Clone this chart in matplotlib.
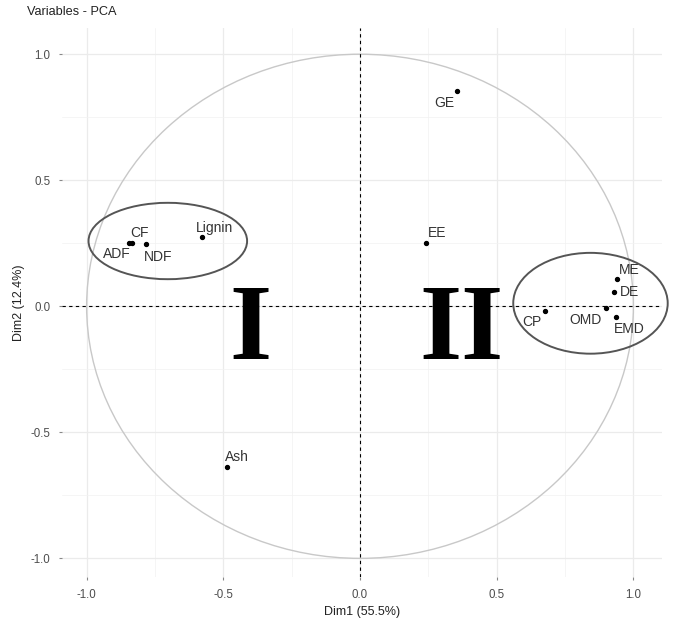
import numpy as np
import matplotlib
matplotlib.use("Agg")
import matplotlib.pyplot as plt
from matplotlib.patches import Ellipse, Circle

plt.rcParams['font.family'] = ['Liberation Sans', 'DejaVu Sans']

# ---- data ----
variables = ["GE", "EE", "Lignin", "CF", "ADF", "NDF", "Ash", "ME", "DE", "OMD", "EMD", "CP"]
dim1 = [0.356, 0.240, -0.578, -0.835, -0.845, -0.782, -0.488, 0.941, 0.930, 0.899, 0.936, 0.677]
dim2 = [0.854, 0.250, 0.274, 0.251, 0.252, 0.248, -0.637, 0.107, 0.058, -0.006, -0.041, -0.019]
ticks = [-1.0, -0.5, 0.0, 0.5, 1.0]
tick_labels = ["-1.0", "-0.5", "0.0", "0.5", "1.0"]
group_names = ["I", "II"]
title = "Variables - PCA"
xlabel = "Dim1 (55.5%)"
ylabel = "Dim2 (12.4%)"

# label offsets (pixels) for repelled labels
label_offsets = {
    "GE": (-13, -12), "EE": (12, 10), "Lignin": (13, 9), "CF": (8, 10),
    "ADF": (-12, -11), "NDF": (12, -13), "Ash": (10, 10), "ME": (12, 9),
    "DE": (15, 0), "OMD": (-20, -12), "EMD": (13, -12), "CP": (-13, -11),
}

fig = plt.figure(figsize=(6.77, 6.18), dpi=100)
ax = fig.add_axes([0.0916, 0.0663, 0.978 - 0.0916, 0.9547 - 0.0663])
ax.set_xlim(-1.09, 1.105)
ax.set_ylim(-1.074, 1.104)

# grid
ax.set_xticks(ticks)
ax.set_yticks(ticks)
ax.set_xticklabels(tick_labels)
ax.set_yticklabels(tick_labels)
ax.set_xticks([-0.75, -0.25, 0.25, 0.75], minor=True)
ax.set_yticks([-0.75, -0.25, 0.25, 0.75], minor=True)
ax.grid(which='major', color='#EBEBEB', lw=0.9, zorder=0)
ax.grid(which='minor', color='#F2F2F2', lw=0.5, zorder=0)
ax.set_axisbelow(True)
for s in ax.spines.values():
    s.set_visible(False)
ax.tick_params(which='major', length=2.5, width=0.8, color='#888888',
               labelsize=8.3, labelcolor='#4D4D4D', pad=6)
ax.tick_params(which='minor', length=0)

# unit circle
ax.add_patch(Circle((0, 0), 1.0, fill=False, ec='#C8C8C8', lw=1.0, zorder=1))

# dashed axes lines
ax.axhline(0, color='black', lw=0.8, ls=(0, (3, 3)), zorder=2)
ax.axvline(0, color='black', lw=0.8, ls=(0, (3, 3)), zorder=2)

# points and labels
ax.scatter(dim1, dim2, s=8, color='black', zorder=4)
for name, x, y in zip(variables, dim1, dim2):
    dx, dy = label_offsets[name]
    ax.annotate(name, (x, y), xytext=(dx, dy), textcoords='offset pixels',
                ha='center', va='center', fontsize=10, color='#333333', zorder=5)

# group ellipses
ax.add_patch(Ellipse((-0.703, 0.259), 0.58, 0.303, fill=False, ec='#555555', lw=1.4,
                     zorder=3, clip_on=False))
ax.add_patch(Ellipse((0.843, 0.012), 0.565, 0.40, fill=False, ec='#555555', lw=1.4,
                     zorder=3, clip_on=False))

# group numerals
ax.text(-0.402, -0.209, group_names[0], fontsize=78, fontweight='bold',
        family='Liberation Serif', ha='center', va='baseline', color='black', zorder=6)
ax.text(0.37, -0.209, group_names[1], fontsize=78, fontweight='bold',
        family='Liberation Serif', ha='center', va='baseline', color='black', zorder=6)

ax.set_xlabel(xlabel, fontsize=9, color='#222222', labelpad=4)
ax.set_ylabel(ylabel, fontsize=9, color='#222222', labelpad=4)
fig.text(27 / 677, 1 - 12 / 618, title, fontsize=9.2, color='#222222', ha='left', va='center')

fig.savefig("out.png", dpi=100)
